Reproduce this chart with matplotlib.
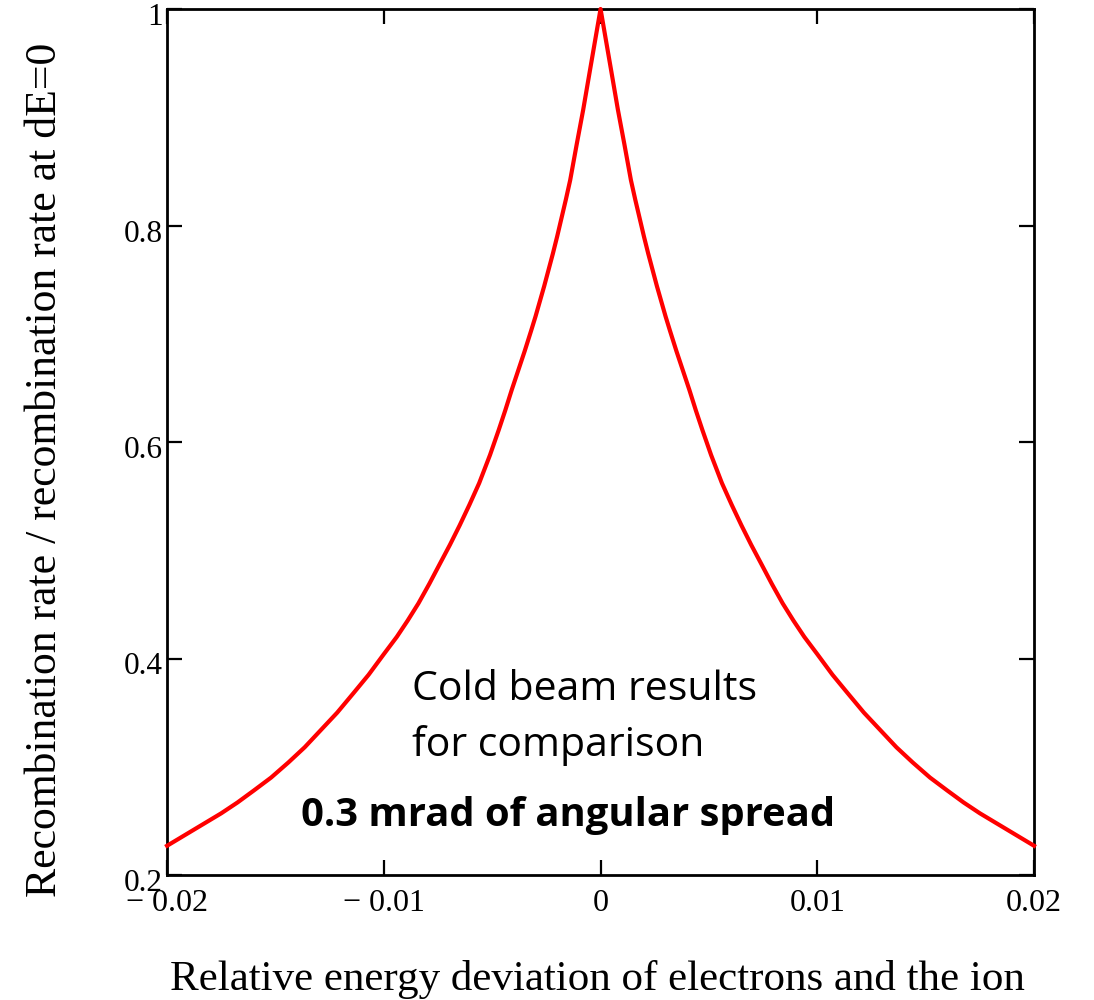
import numpy as np
import matplotlib
matplotlib.use("Agg")
import matplotlib.pyplot as plt
from matplotlib.transforms import ScaledTranslation

# valeurs, de -0.02 à 0.02
dE = [-0.0200, -0.0195, -0.0190, -0.01825, -0.0175, -0.01675, -0.0160, -0.0152,
      -0.0144, -0.01365, -0.0129, -0.01215, -0.0114, -0.0107, -0.0100, -0.0094,
      -0.0089, -0.0084, -0.0079, -0.0074, -0.00695, -0.0065, -0.00605, -0.0056,
      -0.0051, -0.0047, -0.0044, -0.0041, -0.0038, -0.0035, -0.0032, -0.0030,
      -0.0028, -0.0026, -0.0024, -0.0022, -0.0020, -0.0018, -0.0016, -0.0014,
      -0.0011, -0.0008, -0.0005, -0.00025, 0.0,
      0.00025, 0.0005, 0.0008, 0.0011, 0.0014, 0.0016, 0.0018, 0.0020,
      0.0022, 0.0024, 0.0026, 0.0028, 0.0030, 0.0032, 0.0035, 0.0038,
      0.0041, 0.0044, 0.0047, 0.0051, 0.0056, 0.00605, 0.0065, 0.00695,
      0.0074, 0.0079, 0.0084, 0.0089, 0.0094, 0.0100, 0.0107, 0.0114,
      0.01215, 0.0129, 0.01365, 0.0144, 0.0152, 0.0160, 0.01675, 0.0175,
      0.01825, 0.0190, 0.0195, 0.0200]
taux = [0.227, 0.233, 0.239, 0.248, 0.257, 0.267, 0.278, 0.290,
        0.304, 0.318, 0.334, 0.350, 0.368, 0.385, 0.404, 0.420,
        0.435, 0.451, 0.469, 0.488, 0.505, 0.523, 0.542, 0.562,
        0.588, 0.611, 0.629, 0.648, 0.666, 0.684, 0.703, 0.716,
        0.730, 0.744, 0.759, 0.774, 0.790, 0.807, 0.824, 0.842,
        0.875, 0.907, 0.942, 0.971, 1.000,
        0.971, 0.942, 0.907, 0.875, 0.842, 0.824, 0.807, 0.790,
        0.774, 0.759, 0.744, 0.730, 0.716, 0.703, 0.684, 0.666,
        0.648, 0.629, 0.611, 0.588, 0.562, 0.542, 0.523, 0.505,
        0.488, 0.469, 0.451, 0.435, 0.420, 0.404, 0.385, 0.368,
        0.350, 0.334, 0.318, 0.304, 0.290, 0.278, 0.267, 0.257,
        0.248, 0.239, 0.233, 0.227]

xticks = [-0.02, -0.01, 0, 0.01, 0.02]
xtick_labels = ["\u2212 0.02", "\u2212 0.01", "0", "0.01", "0.02"]
yticks = [0.2, 0.4, 0.6, 0.8, 1.0]
ytick_labels = ["0.2", "0.4", "0.6", "0.8", "1"]

serif = "Liberation Serif"
sans = "Open Sans"

fig = plt.figure(figsize=(10.94, 10.0), dpi=100)
ax = fig.add_axes([0.1527, 0.125, 0.7925, 0.866])

ax.plot(dE, taux, color="#ff0000", linewidth=3.0, zorder=3, clip_on=False)

ax.set_xlim(-0.02, 0.02)
ax.set_ylim(0.2, 1.0)
ax.set_xticks(xticks)
ax.set_xticklabels(xtick_labels, fontfamily=serif, fontsize=23)
ax.set_yticks(yticks)
ax.set_yticklabels(ytick_labels, fontfamily=serif, fontsize=22.5)

ax.tick_params(direction="in", length=11, width=1.6, top=True, right=True,
               color="black")
ax.tick_params(axis="x", pad=10)
ax.tick_params(axis="y", pad=3)
for s in ax.spines.values():
    s.set_linewidth(2.0)

# les étiquettes de l'axe y sont un peu sous les graduations
decal = ScaledTranslation(0, -5 / 100, fig.dpi_scale_trans)
for lab in ax.get_yticklabels():
    lab.set_transform(lab.get_transform() + decal)

ax.set_xlabel("Relative energy deviation of electrons and the ion",
              fontfamily=serif, fontsize=31)
ax.xaxis.set_label_coords(0.496, -0.098)
ax.set_ylabel("Recombination rate / recombination rate at dE=0",
              fontfamily=serif, fontsize=31.5)
ax.yaxis.set_label_coords(-0.118, 0.468)

ax.text(-0.0087, 0.371, "Cold beam results", fontfamily=sans, fontsize=29.5,
        ha="left", va="center")
ax.text(-0.0087, 0.320, "for comparison", fontfamily=sans, fontsize=29.5,
        ha="left", va="center")
ax.text(-0.0015, 0.255, "0.3 mrad of angular spread", fontfamily=sans,
        fontsize=28.8, fontweight="bold", ha="center", va="center")

fig.savefig("out.png", dpi=100)
